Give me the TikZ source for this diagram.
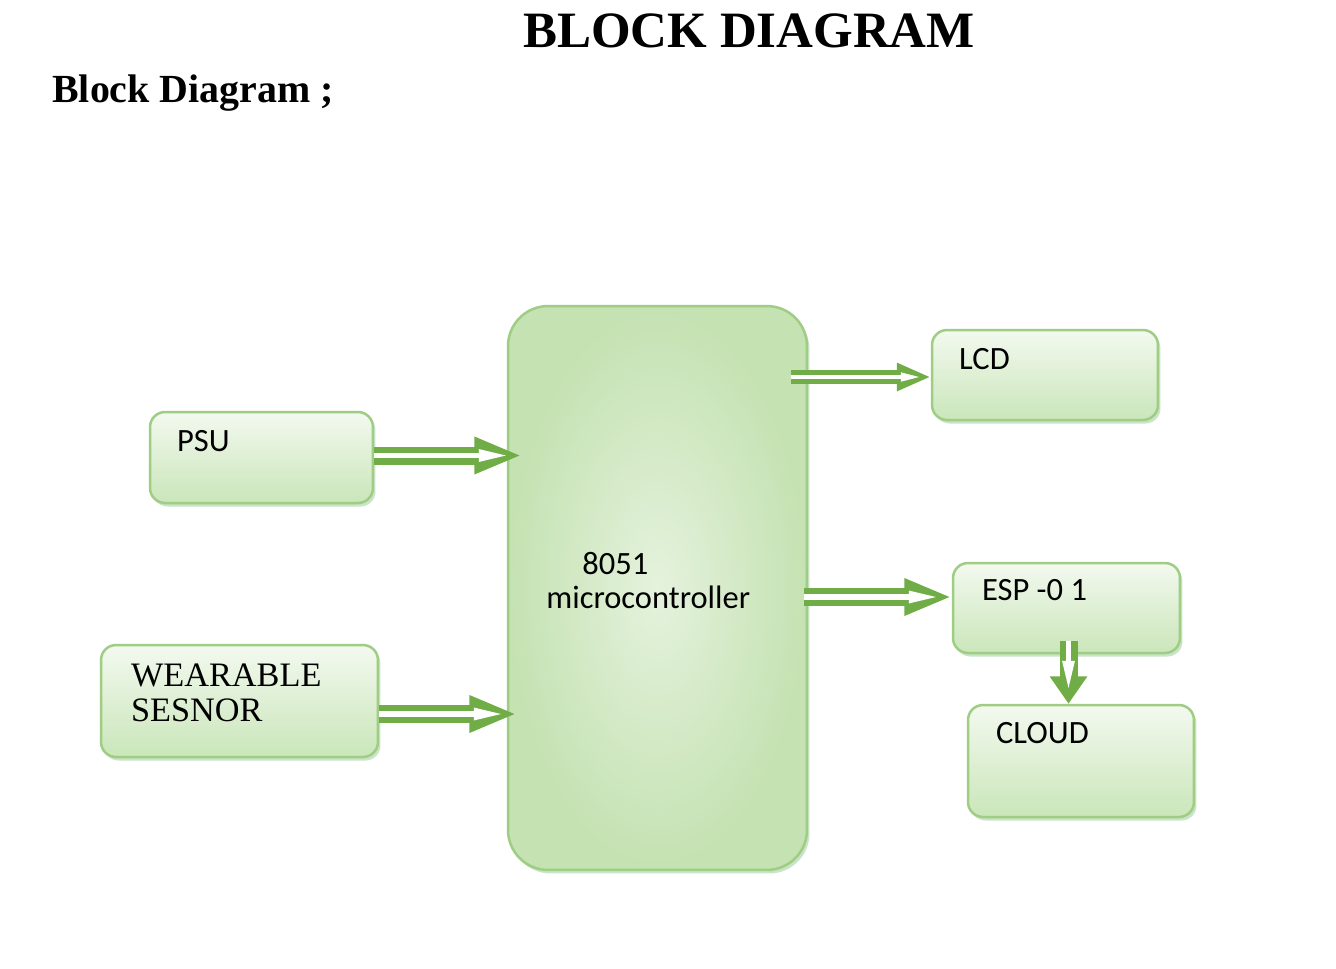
\documentclass[tikz,border=0pt]{standalone}
\usepackage{fontspec}
\setmainfont{Liberation Serif}
\newfontfamily\boxfont{Carlito}
\usepackage{tikz}
\usetikzlibrary{calc,arrows.meta,positioning,shadows}
\usepackage{xcolor}
\definecolor{arrgreen}{RGB}{112,173,71}
\definecolor{edgegreen}{RGB}{160,205,132}
\definecolor{topgreen}{RGB}{243,249,239}
\definecolor{botgreen}{RGB}{202,230,186}
\definecolor{midgreen}{RGB}{229,242,221}
\definecolor{outgreen}{RGB}{196,226,178}
\tikzset{
  block/.style={draw=edgegreen, line width=0.05cm, rounded corners=0.3cm,
    top color=topgreen, bottom color=botgreen,
    drop shadow={shadow xshift=0.05cm, shadow yshift=-0.07cm, fill=black!50!green!60, opacity=0.35}},
  mcublock/.style={block, rounded corners=0.8cm, inner color=midgreen, outer color=outgreen},
  boxtext/.style={inner sep=0pt, anchor=base west, font=\boxfont\fontsize{18.5}{22}\selectfont},
  sertext/.style={inner sep=0pt, anchor=base west, align=left, font=\fontsize{19.5}{20}\selectfont},
  fatarr/.style={draw=arrgreen, line width=0.36cm, -{Triangle[length=0.95cm,width=0.68cm]},
    postaction={draw=white, line width=0.11cm, shorten >=0.24cm, -{Triangle[length=0.62cm,width=0.22cm]}}},
  smallarr/.style={draw=arrgreen, line width=0.28cm, -{Triangle[length=0.68cm,width=0.52cm]},
    postaction={draw=white, line width=0.08cm, shorten >=0.18cm, -{Triangle[length=0.42cm,width=0.16cm]}}}
}
\begin{document}
\begin{tikzpicture}[x=0.02cm, y=-0.02cm]
  \useasboundingbox[fill=white] (0,0) rectangle (1336,968);
  \node[font=\bfseries\fontsize{29}{34}\selectfont] (title) at (749,31) {BLOCK DIAGRAM};
  \node[font=\bfseries\fontsize{22.7}{27}\selectfont, anchor=west, inner sep=0pt] (head) at (52,93) {Block Diagram ;};

  \node[mcublock, minimum width=5.98cm, minimum height=11.28cm] (mcu) at (657.5,588) {};
  \node[block, minimum width=4.46cm, minimum height=1.82cm] (psu) at (261.5,457.5) {};
  \node[block, minimum width=5.54cm, minimum height=2.24cm] (sensor) at (239.5,701) {};
  \node[block, minimum width=4.52cm, minimum height=1.8cm] (lcd) at (1045,375) {};
  \node[block, minimum width=4.54cm, minimum height=1.8cm] (esp) at (1066.5,608) {};
  \node[block, minimum width=4.52cm, minimum height=2.24cm] (cloud) at (1081,761) {};

  \node[boxtext] (psulbl) at ($(psu.north west)+(28,41)$) {PSU};
  \node[boxtext] (lcdlbl) at ($(lcd.north west)+(28,41)$) {LCD};
  \node[boxtext] (esplbl) at ($(esp.north west)+(30,39)$) {ESP -0 1};
  \node[boxtext] (cloudlbl) at ($(cloud.north west)+(29,40)$) {CLOUD};
  \node[boxtext] (mculbl) at (582,574) {8051};
  \node[boxtext] (mculbl2) at (546,608) {microcontroller};
  \node[sertext] (sensorlbl) at ($(sensor.north west)+(31,78)$) {WEARABLE\\SESNOR};

  \draw[fatarr] ($(psu.east)+(0,-2)$) -- ($(psu.east -| mcu.west)+(15,-2)$);
  \draw[fatarr] ($(sensor.east)+(0,13)$) -- ($(sensor.east -| mcu.west)+(10,13)$);
  \draw[smallarr] ($(lcd.west -| mcu.east)+(-17,2)$) -- ($(lcd.west)+(0,2)$);
  \draw[fatarr] ($(esp.west -| mcu.east)+(-4,-11)$) -- ($(esp.west)+(0,-11)$);
  \draw[fatarr, -{Triangle[length=0.55cm,width=0.72cm]}] ($(esp.south)+(2,-13)$) -- ($(cloud.north -| esp.south)+(2,0)$);
\end{tikzpicture}
\end{document}
